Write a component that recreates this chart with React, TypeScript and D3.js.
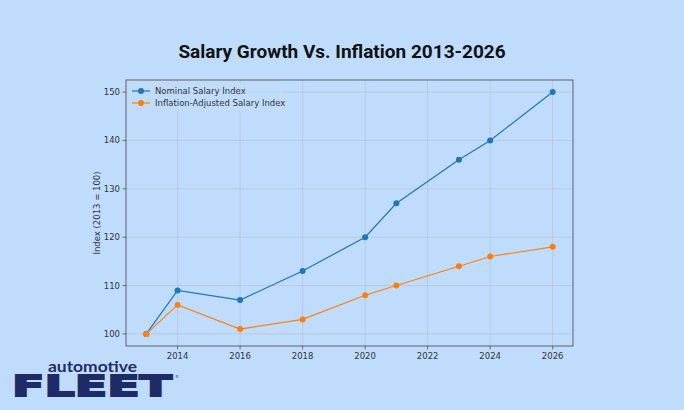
import * as d3 from 'd3';

const years = [2013, 2014, 2016, 2018, 2020, 2021, 2023, 2024, 2026];
const nominalIndex = [100, 109, 107, 113, 120, 127, 136, 140, 150];
const adjustedIndex = [100, 106, 101, 103, 108, 110, 114, 116, 118];
const xTicks = [2014, 2016, 2018, 2020, 2022, 2024, 2026];
const yTicks = [100, 110, 120, 130, 140, 150];
const seriesNames = ['Nominal Salary Index', 'Inflation-Adjusted Salary Index'];

const W = 684;
const H = 410;
const BG = '#bfdcfd';
const NAVY = '#1f2b66';
const margin = { left: 126, right: 111, top: 80, bottom: 64 };

export default function App() {
  const x = d3.scaleLinear().domain([2012.35, 2026.65]).range([margin.left, W - margin.right]);
  const y = d3.scaleLinear().domain([97.5, 152.5]).range([H - margin.bottom, margin.top]);

  const line = d3
    .line<number>()
    .x((_, i) => x(years[i]))
    .y(d => y(d));

  const series = [
    { name: seriesNames[0], values: nominalIndex, color: '#1f77b4' },
    { name: seriesNames[1], values: adjustedIndex, color: '#ff7f0e' },
  ];

  const [x0, x1] = x.range();
  const [y0, y1] = y.range();
  const tickFont = "'DejaVu Sans', sans-serif";

  return (
    <svg
      width={W}
      height={H}
      style={{ position: 'absolute', left: 0, top: 0, background: BG }}
    >
      <rect x={0} y={0} width={W} height={H} fill={BG} />

      <text
        x={W / 2}
        y={58}
        textAnchor="middle"
        fontFamily="Roboto, sans-serif"
        fontWeight="bold"
        fontSize={19}
        fill="#111"
      >
        Salary Growth Vs. Inflation 2013-2026
      </text>

      {/* grid */}
      {xTicks.map(t => (
        <line key={'gx' + t} x1={x(t)} x2={x(t)} y1={y1} y2={y0} stroke="#b4bcc6" strokeOpacity={0.7} strokeWidth={0.8} />
      ))}
      {yTicks.map(t => (
        <line key={'gy' + t} x1={x0} x2={x1} y1={y(t)} y2={y(t)} stroke="#b4bcc6" strokeOpacity={0.7} strokeWidth={0.8} />
      ))}

      {/* series */}
      {series.map(s => (
        <g key={s.name}>
          <path d={line(s.values) ?? ''} fill="none" stroke={s.color} strokeWidth={1.2} />
          {s.values.map((v, i) => (
            <circle key={i} cx={x(years[i])} cy={y(v)} r={3} fill={s.color} />
          ))}
        </g>
      ))}

      {/* frame */}
      <rect x={x0} y={y1} width={x1 - x0} height={y0 - y1} fill="none" stroke="#555" strokeWidth={0.9} />

      {/* x ticks */}
      {xTicks.map(t => (
        <g key={'tx' + t}>
          <line x1={x(t)} x2={x(t)} y1={y0} y2={y0 + 3.5} stroke="#555" strokeWidth={0.8} />
          <text x={x(t)} y={y0 + 13} textAnchor="middle" fontFamily={tickFont} fontSize={8.5} fill="#333">
            {t}
          </text>
        </g>
      ))}

      {/* y ticks */}
      {yTicks.map(t => (
        <g key={'ty' + t}>
          <line x1={x0 - 3.5} x2={x0} y1={y(t)} y2={y(t)} stroke="#555" strokeWidth={0.8} />
          <text x={x0 - 6} y={y(t) + 3} textAnchor="end" fontFamily={tickFont} fontSize={8.5} fill="#333">
            {t}
          </text>
        </g>
      ))}

      <text
        transform={`translate(100, ${(y0 + y1) / 2}) rotate(-90)`}
        textAnchor="middle"
        fontFamily={tickFont}
        fontSize={8.5}
        fill="#333"
      >
        Index (2013 = 100)
      </text>

      {/* legend */}
      <rect x={128} y={83} width={154} height={28} rx={2} fill={BG} fillOpacity={0.8} stroke="#d0d8e0" strokeWidth={0.8} />
      {series.map((s, i) => (
        <g key={'lg' + i}>
          <line x1={132} x2={150} y1={91 + i * 12} y2={91 + i * 12} stroke={s.color} strokeWidth={1.2} />
          <circle cx={141} cy={91 + i * 12} r={3} fill={s.color} />
          <text x={155} y={94 + i * 12} fontFamily={tickFont} fontSize={8.5} fill="#333">
            {s.name}
          </text>
        </g>
      ))}

      {/* logo */}
      <text
        x={48}
        y={371.5}
        fontFamily="Lato, 'Open Sans', sans-serif"
        fontWeight="bold"
        fontSize={16}
        fill={NAVY}
        textLength={89}
        lengthAdjust="spacingAndGlyphs"
      >
        automotive
      </text>
      <text
        transform="translate(12, 396) scale(1, 1.25)"
        x={0}
        y={0}
        fontFamily="'DejaVu Sans', sans-serif"
        fontWeight="bold"
        fontSize={23}
        fill={NAVY}
        stroke={NAVY}
        strokeWidth={1.4}
        textLength={160}
        lengthAdjust="spacingAndGlyphs"
      >
        FLEET
      </text>
      <text x={175} y={378} fontFamily="'DejaVu Sans', sans-serif" fontSize={4} fill={NAVY}>
        ®
      </text>
    </svg>
  );
}
